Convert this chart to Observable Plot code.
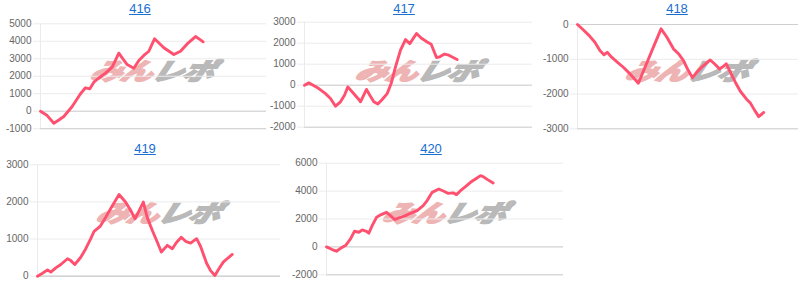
<!DOCTYPE html>
<html><head><meta charset="utf-8">
<script src="https://cdn.jsdelivr.net/npm/d3@7"></script>
<script src="https://cdn.jsdelivr.net/npm/@observablehq/plot@0.6"></script>
<style>
html,body{margin:0;padding:0;background:#fff;}
body{width:800px;height:284px;position:relative;overflow:hidden;font-family:"Liberation Sans",Arial,sans-serif;}
.title{position:absolute;font-size:13px;color:#1a6fd0;text-decoration:underline;transform:translateX(-50%);white-space:nowrap;line-height:1;cursor:pointer;}
.wm{position:absolute;transform:translate(-50%,-50%) scale(1.33,1) skewX(-14deg);font-family:"Noto Sans CJK JP";font-weight:900;font-style:italic;font-size:24px;white-space:nowrap;line-height:1;z-index:0;letter-spacing:-1px;}
.wm .a{color:#eeb4b4;-webkit-text-stroke:1.4px #eeb4b4;}
.wm .b{color:#b9b9b9;-webkit-text-stroke:1.4px #b9b9b9;}
</style>
</head><body>
<script>
// ---- data ----
const titles = ["416", "417", "418", "419", "420"];
const watermarkA = "みん";
const watermarkB = "レポ";

const x416 = [0, 2.95, 5.9, 8.11, 10.32, 14.01, 17.7, 19.91, 21.83, 23.6, 25.81, 28.76, 31.71, 34.66, 36.14, 38.35, 41.3, 43.51, 45.72, 47.94, 50.44, 51.62, 54.57, 59.0, 61.95, 64.9, 68.58, 70.8, 71.98];
const y416 = [0, -250, -690, -500, -300, 270, 1000, 1340, 1280, 1660, 1900, 2180, 2520, 3320, 3050, 2670, 2460, 2900, 3190, 3430, 4140, 4000, 3630, 3240, 3430, 3850, 4270, 4080, 3970];
const ticks416 = [-1000, 0, 1000, 2000, 3000, 4000, 5000];

const x417 = [0, 1.9, 3.8, 6.29, 9.21, 11.4, 13.6, 15.79, 17.54, 19.01, 21.35, 23.83, 24.56, 27.19, 28.65, 30.41, 32.16, 34.06, 36.26, 38.01, 39.91, 42.11, 44.3, 46.2, 49.12, 51.17, 53.8, 55.56, 57.89, 59.36, 61.4, 63.3, 65.2, 66.96];
const y417 = [0, 110, 0, -160, -400, -630, -1000, -790, -480, -80, -370, -680, -790, -200, -480, -790, -900, -680, -400, 80, 870, 1670, 2170, 1980, 2460, 2250, 2060, 1950, 1320, 1350, 1480, 1430, 1320, 1220];
const ticks417 = [-2000, -1000, 0, 1000, 2000, 3000];

const x418 = [0, 2.57, 5.3, 7.87, 10.14, 11.95, 13.46, 15.43, 18.0, 20.73, 23.75, 27.53, 30.56, 34.34, 37.82, 40.39, 43.42, 45.69, 47.96, 49.77, 52.04, 54.01, 57.03, 60.06, 62.33, 64.3, 65.81, 67.32, 69.14, 71.41, 73.68, 76.4, 78.21, 80.18, 82.0, 84.27];
const y418 = [0, -150, -320, -510, -750, -870, -800, -940, -1080, -1230, -1420, -1690, -1230, -650, -125, -360, -700, -840, -1040, -1280, -1530, -1370, -1180, -1020, -1150, -1280, -1210, -1130, -1370, -1660, -1920, -2140, -2260, -2470, -2650, -2530];
const ticks418 = [-3000, -2000, -1000, 0];

const x419 = [0, 2.05, 4.11, 5.48, 7.53, 9.59, 12.33, 13.7, 15.34, 17.81, 19.86, 21.92, 23.29, 25.75, 28.08, 30.82, 33.56, 36.3, 38.36, 40.14, 42.19, 43.56, 45.21, 47.26, 49.32, 50.96, 53.42, 55.48, 57.26, 59.18, 60.96, 63.01, 65.48, 67.12, 69.59, 71.23, 73.01, 74.66, 76.44, 78.36, 80.14];
const y419 = [0, 80, 170, 110, 225, 315, 470, 420, 315, 510, 740, 1010, 1210, 1340, 1590, 1900, 2200, 1990, 1770, 1545, 1815, 1995, 1570, 1230, 915, 650, 830, 740, 915, 1050, 940, 890, 1010, 800, 350, 150, 20, 200, 380, 490, 585];
const ticks419 = [0, 1000, 2000, 3000];

const x420 = [0, 2.39, 4.22, 6.19, 8.02, 10.13, 11.81, 13.64, 15.05, 16.88, 17.86, 19.27, 21.1, 23.07, 25.32, 27.0, 28.69, 31.22, 33.33, 35.44, 38.26, 40.79, 42.48, 44.59, 47.4, 49.51, 51.2, 53.45, 54.85, 56.54, 58.65, 60.76, 62.87, 64.98, 66.1, 67.79, 70.32];
const y420 = [0, -190, -310, -70, 95, 570, 1120, 1050, 1220, 1120, 980, 1530, 2120, 2315, 2480, 2240, 1960, 2120, 2240, 2410, 2600, 2960, 3320, 3910, 4150, 3990, 3840, 3870, 3750, 4030, 4320, 4630, 4870, 5110, 5040, 4840, 4580];
const ticks420 = [-2000, 0, 2000, 4000, 6000];

// ---- layout ----
const panels = [
  {title: titles[0], xs: x416, ys: y416, ticks: ticks416, left: 0,   rowTop: 0,   rowH: 140, width: 266, mL: 40, mR: 0, titleX: 140, pTop: 23.3, pBot: 128.2},
  {title: titles[1], xs: x417, ys: y417, ticks: ticks417, left: 266, rowTop: 0,   rowH: 140, width: 266, mL: 38, mR: 0, titleX: 404, pTop: 21.7, pBot: 126.7},
  {title: titles[2], xs: x418, ys: y418, ticks: ticks418, left: 533, rowTop: 0,   rowH: 140, width: 267, mL: 44, mR: 2, titleX: 677, pTop: 24.0, pBot: 128.3},
  {title: titles[3], xs: x419, ys: y419, ticks: ticks419, left: 0,   rowTop: 140, rowH: 144, width: 280, mL: 37, mR: 0, titleX: 145, pTop: 164.3, pBot: 275.7},
  {title: titles[4], xs: x420, ys: y420, ticks: ticks420, left: 280, rowTop: 140, rowH: 144, width: 283, mL: 46, mR: 0, titleX: 431, pTop: 162.7, pBot: 274.3}
];

const LINE = "#ff5070";
const GRID = "#ebebeb";
const DARK = "#cfcfcf";

for (const p of panels) {
  const svgTop = p.rowTop + 18;
  const svgH = p.rowTop + p.rowH - svgTop;
  const data = p.ys.map((v, i) => ({x: p.xs[i], y: v}));
  const dom = d3.extent(p.ticks);

  const t = document.createElement("a");
  t.className = "title";
  t.textContent = p.title;
  t.style.left = p.titleX + "px";
  t.style.top = (p.rowTop + 2) + "px";
  document.body.appendChild(t);

  const wm = document.createElement("div");
  wm.className = "wm";
  wm.innerHTML = `<span class="a">${watermarkA}</span><span class="b">${watermarkB}</span>`;
  wm.style.left = (p.left + p.mL + (p.width - p.mL - p.mR) / 2) + "px";
  wm.style.top = (p.rowTop + p.rowH / 2) + "px";
  document.body.appendChild(wm);

  const chart = Plot.plot({
    width: p.width,
    height: svgH,
    marginLeft: p.mL,
    marginRight: p.mR,
    marginTop: p.pTop - svgTop,
    marginBottom: svgTop + svgH - p.pBot,
    style: {background: "transparent", fontFamily: "'Liberation Sans', Arial, sans-serif", fontSize: "10px", overflow: "visible"},
    x: {domain: [0, 100], axis: null},
    y: {domain: dom, axis: null},
    marks: [
      Plot.gridY(p.ticks, {stroke: GRID, strokeOpacity: 1}),
      Plot.ruleY([0, dom[0]], {stroke: DARK}),
      Plot.ruleX([0], {stroke: GRID}),
      Plot.axisY(p.ticks, {tickSize: 7, tickPadding: 2, stroke: GRID, strokeOpacity: 1, fill: "#666", fontSize: 10, label: null, tickFormat: d => String(d)}),
      Plot.line(data, {x: "x", y: "y", stroke: LINE, strokeWidth: 2.9, strokeLinejoin: "round", strokeLinecap: "round"})
    ]
  });
  chart.style.position = "absolute";
  chart.style.left = p.left + "px";
  chart.style.top = svgTop + "px";
  chart.style.zIndex = "1";
  document.body.appendChild(chart);
}
</script>
</body></html>
